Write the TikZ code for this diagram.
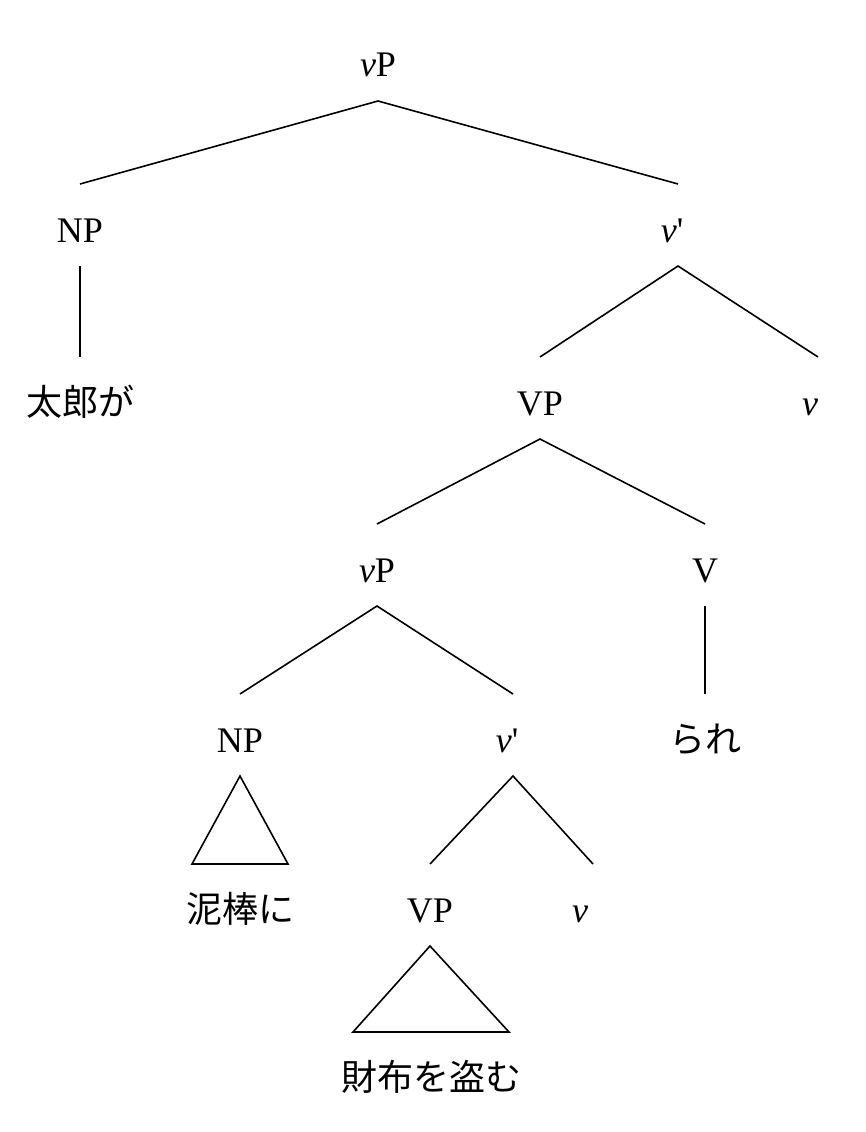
\documentclass[tikz,border=0pt]{standalone}
\usepackage{fontspec}
\setmainfont{Liberation Serif}
\newfontfamily\jp{Noto Sans CJK JP}
\begin{document}
\begin{tikzpicture}[x=1pt,y=-1pt,
  lbl/.style={anchor=base,inner sep=0pt,outer sep=0pt,text height=58pt,text depth=24pt,font=\fontsize{36}{40}\selectfont},
  br/.style={line width=1.6pt,line join=miter}]
\useasboundingbox (0,0) rectangle (866,1132);
\node[lbl] (n1) at (378,77) {\textit{v}P};
\node[lbl] (n2) at (80,242) {NP};
\node[lbl] (n3) at (672,242) {\textit{v}\textquotesingle};
\node[lbl] (n4) at (80,415) {\jp 太郎が};
\node[lbl] (n5) at (540,415) {VP};
\node[lbl] (n6) at (810,415) {\textit{v}};
\node[lbl] (n7) at (377,582) {\textit{v}P};
\node[lbl] (n8) at (705,582) {V};
\node[lbl] (n9) at (240,752) {NP};
\node[lbl] (n10) at (507,752) {\textit{v}\textquotesingle};
\node[lbl] (n11) at (705,752) {\jp られ};
\node[lbl] (n12) at (240,922) {\jp 泥棒に};
\node[lbl] (n13) at (430,922) {VP};
\node[lbl] (n14) at (580,922) {\textit{v}};
\node[lbl] (n15) at (431,1090) {\jp 財布を盗む};
\draw[br] (n2.north) -- (n1.south) -- ([xshift=6pt]n3.north);
\draw[br] (n2.south) -- (n4.north);
\draw[br] (n5.north) -- ([xshift=6pt]n3.south) -- ([xshift=8pt]n6.north);
\draw[br] (n7.north) -- (n5.south) -- (n8.north);
\draw[br] (n9.north) -- (n7.south) -- ([xshift=6pt]n10.north);
\draw[br] (n8.south) -- (n11.north);
\draw[br] (n9.south) -- ([xshift=-48pt]n12.north) -- ([xshift=48pt]n12.north) -- cycle;
\draw[br] (n13.north) -- ([xshift=6pt]n10.south) -- ([xshift=13pt]n14.north);
\draw[br] (n13.south) -- ([xshift=-78pt]n15.north) -- ([xshift=78pt]n15.north) -- cycle;
\end{tikzpicture}
\end{document}
